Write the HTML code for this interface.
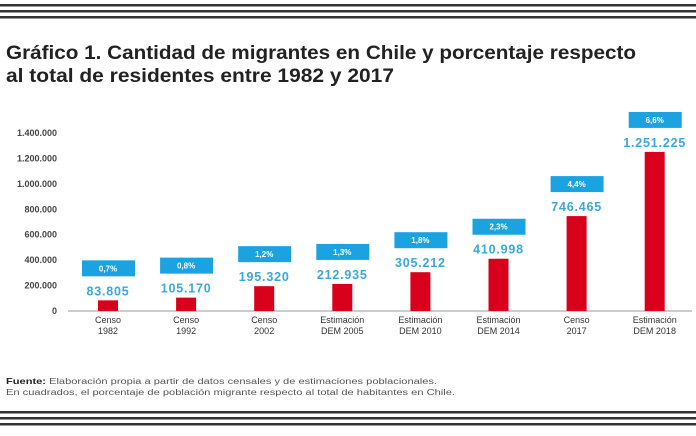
<!DOCTYPE html>
<html><head><meta charset="utf-8"><style>
body{margin:0;background:#fff;width:696px;height:431px;overflow:hidden;font-family:"Liberation Sans",sans-serif}
</style></head><body>
<svg width="696" height="431" xmlns="http://www.w3.org/2000/svg">
<g fill="#333">
<rect x="0" y="4" width="696" height="2.5"/><rect x="0" y="10" width="696" height="2.5"/><rect x="0" y="16" width="696" height="2.5"/>
</g>
<g fill="#333">
<rect x="0" y="411" width="696" height="2.5"/><rect x="0" y="417" width="696" height="2.5"/><rect x="0" y="423" width="696" height="2.5"/>
</g>
<text x="6" y="59" font-size="19" font-weight="bold" fill="#222" textLength="630" lengthAdjust="spacingAndGlyphs">Gráfico 1. Cantidad de migrantes en Chile y porcentaje respecto</text>
<text x="6" y="82" font-size="19" font-weight="bold" fill="#222" textLength="388" lengthAdjust="spacingAndGlyphs">al total de residentes entre 1982 y 2017</text>
<g id="yaxis"></g>
<line x1="68" y1="311" x2="692" y2="311" stroke="#999" stroke-width="1"/>
<g id="bars"></g>
<text x="6" y="384" font-size="8" fill="#555" textLength="431" lengthAdjust="spacingAndGlyphs"><tspan font-weight="bold" fill="#222">Fuente:</tspan> Elaboración propia a partir de datos censales y de estimaciones poblacionales.</text>
<text x="6" y="395" font-size="8" fill="#555" textLength="449" lengthAdjust="spacingAndGlyphs">En cuadrados, el porcentaje de población migrante respecto al total de habitantes en Chile.</text>
</svg>
<script>
const categories1=["Censo","Censo","Censo","Estimación","Estimación","Estimación","Censo","Estimación"];
const categories2=["1982","1992","2002","DEM 2005","DEM 2010","DEM 2014","2017","DEM 2018"];
const values=[83805,105170,195320,212935,305212,410998,746465,1251225];
const valueLabels=["83.805","105.170","195.320","212.935","305.212","410.998","746.465","1.251.225"];
const pctLabels=["0,7%","0,8%","1,2%","1,3%","1,8%","2,3%","4,4%","6,6%"];
const ticks=[0,200000,400000,600000,800000,1000000,1200000,1400000];
const tickLabels=["0","200.000","400.000","600.000","800.000","1.000.000","1.200.000","1.400.000"];
const NS="http://www.w3.org/2000/svg";
const y=v=>311-v*178/1400000;
const x=i=>108+i*78.1;
function mk(t,a,p,txt){const e=document.createElementNS(NS,t);for(const k in a)e.setAttribute(k,a[k]);if(txt!=null)e.textContent=txt;p.appendChild(e);return e;}
const ya=document.getElementById('yaxis');
ticks.forEach((t,i)=>{const e=mk('text',{x:57,y:y(t)+3,'font-size':9,'font-weight':'bold','text-anchor':'end',fill:'#444'},ya,tickLabels[i]);

});
const g=document.getElementById('bars');
values.forEach((v,i)=>{
const cx=x(i),top=y(v);
const b=mk('rect',{x:cx-10,y:top,width:20,height:311-top,fill:'#d9001b'},g);


const vl=mk('text',{x:cx,y:top-5,'font-size':12.5,'font-weight':'bold','text-anchor':'middle',fill:'#3aa8dc','letter-spacing':'0.8'},g,valueLabels[i]);


const bx=mk('rect',{x:cx-26,y:top-40,width:53,height:16,fill:'#1aa3e0'},g);


const pl=mk('text',{x:cx,y:top-29,'font-size':8,'font-weight':'bold','text-anchor':'middle',fill:'#fff'},g,pctLabels[i]);


const c1=mk('text',{x:cx,y:323,'font-size':9,'text-anchor':'middle',fill:'#333'},g,categories1[i]);


const c2=mk('text',{x:cx,y:334,'font-size':9,'text-anchor':'middle',fill:'#333'},g,categories2[i]);


});
</script>
</body></html>
